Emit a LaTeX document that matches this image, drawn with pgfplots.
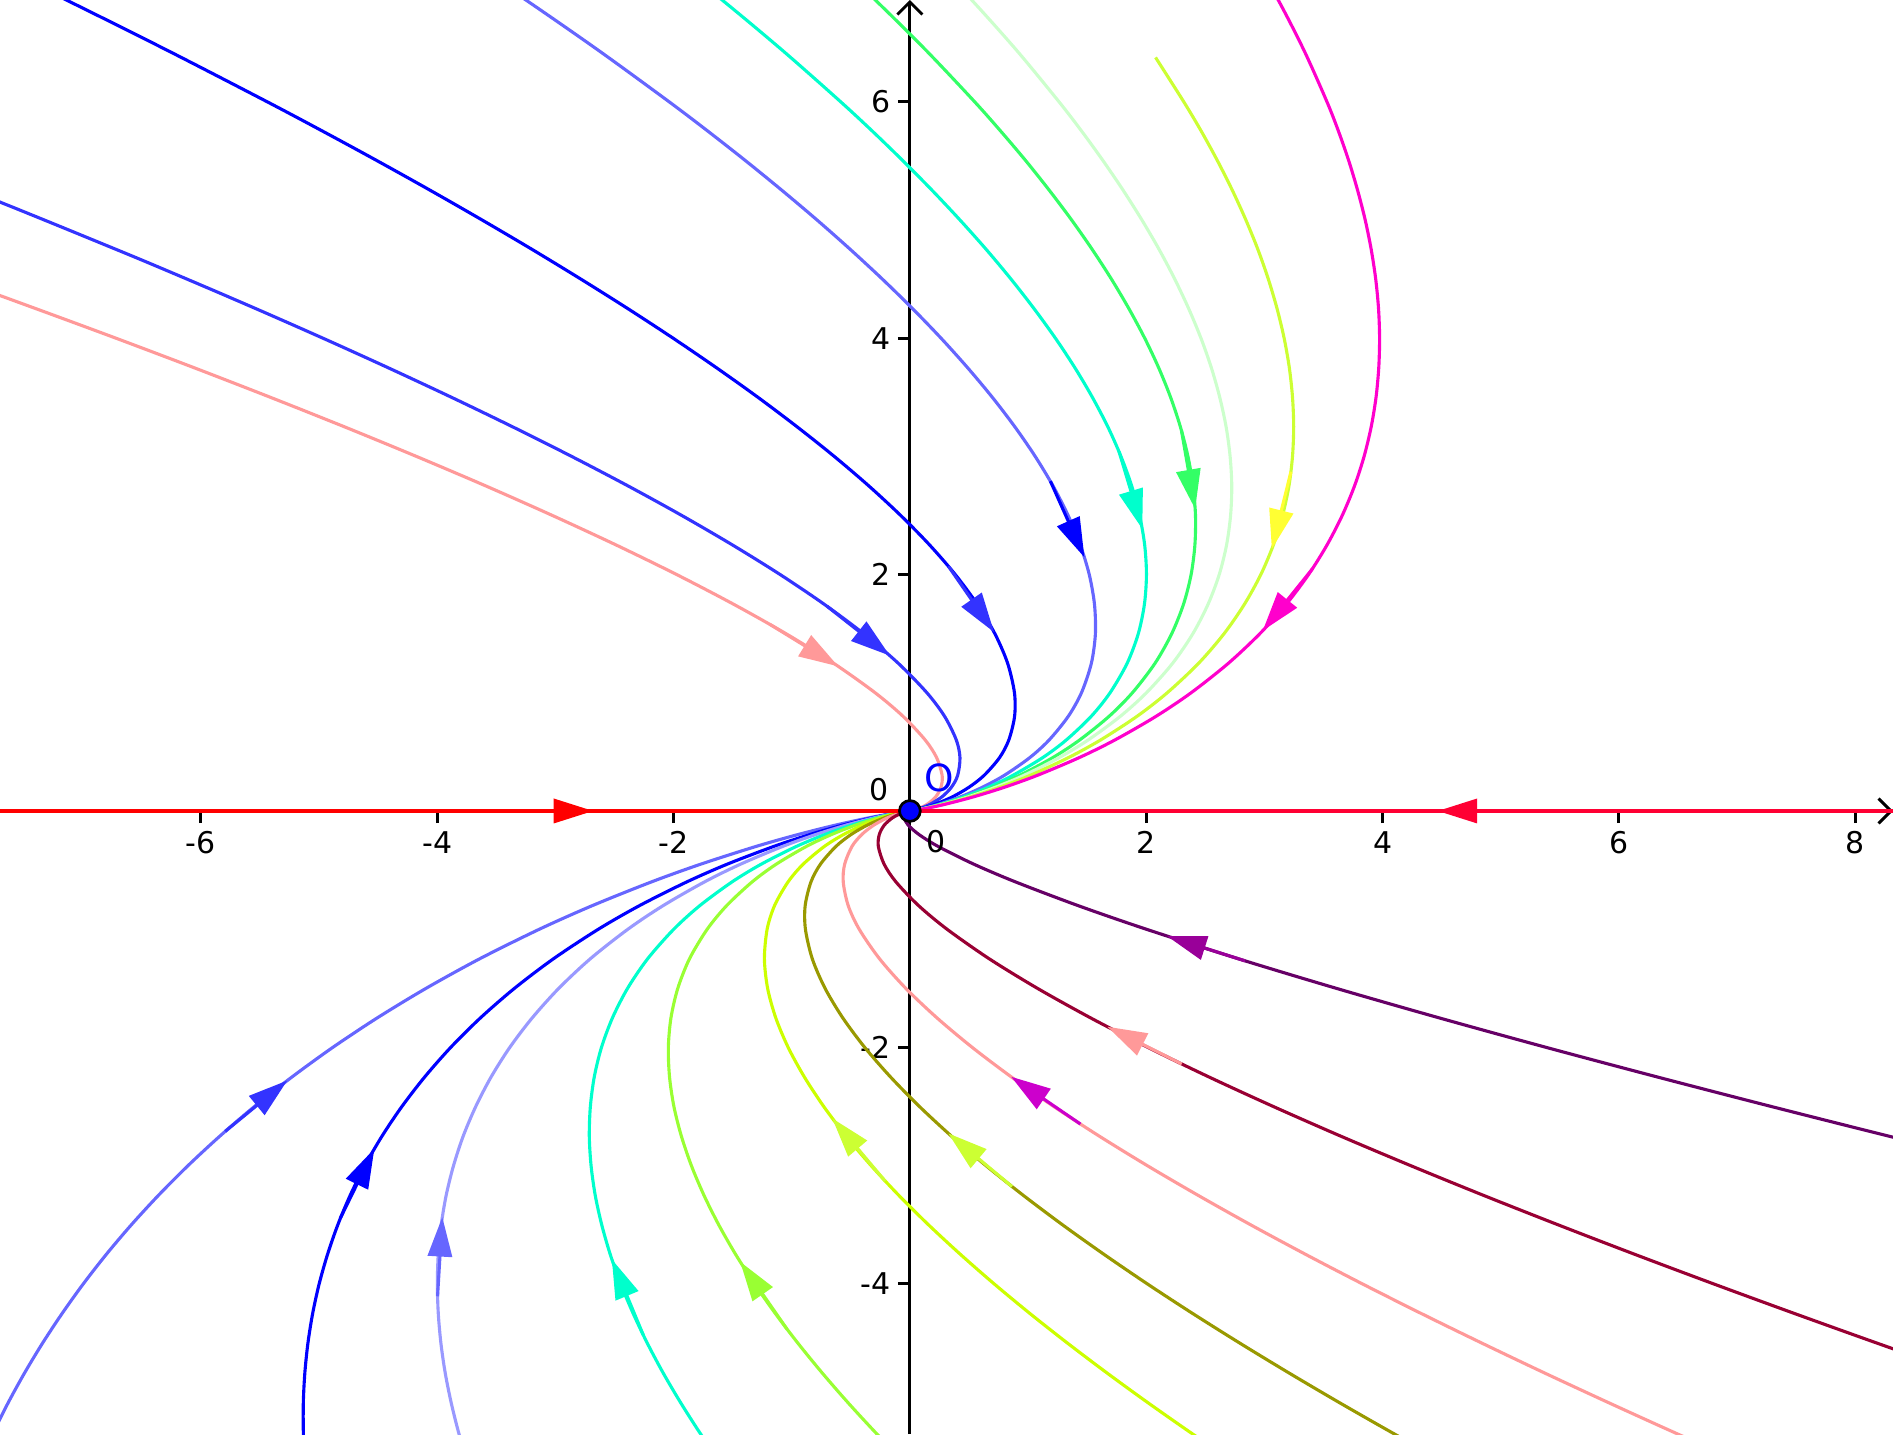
\documentclass[border=0pt]{standalone}
\usepackage{fontspec}
\setmainfont{DejaVu Sans}
\usepackage{pgfplots}
\pgfplotsset{compat=1.18}
\usetikzlibrary{arrows.meta}

\definecolor{cpink}{HTML}{FF9999}
\definecolor{cblueA}{HTML}{3333FF}
\definecolor{cblue}{HTML}{0000FF}
\definecolor{cperi}{HTML}{6666FF}
\definecolor{clav}{HTML}{9999FF}
\definecolor{cturq}{HTML}{00FFCC}
\definecolor{cgreen}{HTML}{33FF66}
\definecolor{cpale}{HTML}{CCFFCC}
\definecolor{clime}{HTML}{CCFF33}
\definecolor{cyell}{HTML}{FFFF33}
\definecolor{cmag}{HTML}{FF00CC}
\definecolor{cgrass}{HTML}{99FF33}
\definecolor{cchart}{HTML}{CCFF00}
\definecolor{colive}{HTML}{999900}
\definecolor{cviol}{HTML}{CC00CC}
\definecolor{cwine}{HTML}{990033}
\definecolor{cplum}{HTML}{660066}
\definecolor{cpurp}{HTML}{990099}
\definecolor{cred}{HTML}{FF0000}
\definecolor{ccrim}{HTML}{FF0033}

\tikzset{
  curve/.style={smooth, line width=0.75pt},
  arr/.style={line width=0.75pt, -{Triangle[length=9.5pt,width=5.8pt]}},
}

\begin{document}
\begin{tikzpicture}
\begin{axis}[
  width=16cm, height=12.1204cm, scale only axis,
  xmin=-7.70, xmax=8.32, ymin=-5.27, ymax=6.86,
  axis lines=middle,
  axis line style={black, line width=0.7pt, -{Straight Barb[length=3pt,width=6pt]}},
  xtick={-6,-4,-2,2,4,6,8}, xticklabels={-6,-4,-2,2,4,6,8},
  ytick={-4,-2,2,4,6}, yticklabels={-4,-2,2,4,6},
  tick align=outside, major tick length=2.9pt,
  tick style={black, line width=0.7pt},
  ticklabel style={font=\fontsize{7.2}{8}\selectfont},
  xticklabel style={yshift=1.5pt},
  yticklabel style={xshift=1.7pt},
  /pgf/number format/assume math mode=true,
]
% y > 0 : trajectories coming down to the origin
\addplot[cpink, curve] coordinates {(-9.517,5) (-8.091,4.5) (-7.399,4.25) (-6.721,4) (-6.059,3.75) (-5.414,3.5) (-4.786,3.25) (-4.178,3) (-3.590,2.75) (-3.026,2.5) (-2.486,2.25) (-1.974,2) (-1.494,1.75) (-1.049,1.5) (-0.646,1.25) (-0.294,1) (-0.057,0.8) (0.130,0.6) (0.227,0.45) (0.273,0.3) (0.263,0.2) (0.219,0.12) (0.151,0.06) (0.096,0.03) (0.043,0.01) (0.017,0.003) (0,0)};
\addplot[cblueA, curve] coordinates {(-9.887,6) (-7.950,5.25) (-6.717,4.75) (-6.120,4.5) (-5.537,4.25) (-4.969,4) (-4.417,3.75) (-3.881,3.5) (-3.363,3.25) (-2.864,3) (-2.386,2.75) (-1.931,2.5) (-1.501,2.25) (-1.098,2) (-0.727,1.75) (-0.392,1.5) (-0.099,1.25) (0.144,1) (0.294,0.8) (0.393,0.6) (0.424,0.45) (0.404,0.3) (0.351,0.2) (0.272,0.12) (0.177,0.06) (0.110,0.03) (0.047,0.01) (0.018,0.003) (0,0)};
\addplot[cblue, curve] coordinates {(-8.051,7.3) (-7.139,6.86) (-6.276,6.43) (-5.441,6) (-4.969,5.75) (-4.508,5.5) (-4.059,5.25) (-3.622,5) (-3.197,4.75) (-2.786,4.5) (-2.388,4.25) (-2.005,4) (-1.638,3.75) (-1.287,3.5) (-0.955,3.25) (-0.641,3) (-0.348,2.75) (-0.078,2.5) (0.167,2.25) (0.384,2) (0.569,1.75) (0.719,1.5) (0.827,1.25) (0.885,1) (0.886,0.8) (0.837,0.6) (0.758,0.45) (0.627,0.3) (0.499,0.2) (0.361,0.12) (0.222,0.06) (0.132,0.03) (0.055,0.01) (0.020,0.003) (0,0)};
\addplot[cperi, curve] coordinates {(-3.912,7.3) (-3.250,6.86) (-2.630,6.43) (-2.039,6) (-1.709,5.75) (-1.390,5.5) (-1.083,5.25) (-0.787,5) (-0.504,4.75) (-0.234,4.5) (0.022,4.25) (0.263,4) (0.488,3.75) (0.697,3.5) (0.888,3.25) (1.060,3) (1.211,2.75) (1.339,2.5) (1.442,2.25) (1.518,2) (1.562,1.75) (1.570,1.5) (1.536,1.25) (1.452,1) (1.340,0.8) (1.178,0.6) (1.013,0.45) (0.797,0.3) (0.612,0.2) (0.429,0.12) (0.256,0.06) (0.149,0.03) (0.061,0.01) (0.022,0.003) (0,0)};
\addplot[cturq, curve] coordinates {(-2.145,7.3) (-1.589,6.86) (-1.074,6.43) (-0.587,6) (-0.317,5.75) (-0.059,5.5) (0.188,5.25) (0.423,5) (0.646,4.75) (0.855,4.5) (1.050,4.25) (1.231,4) (1.396,3.75) (1.544,3.5) (1.675,3.25) (1.786,3) (1.877,2.75) (1.944,2.5) (1.987,2.25) (2.002,2) (1.985,1.75) (1.933,1.5) (1.839,1.25) (1.694,1) (1.534,0.8) (1.323,0.6) (1.122,0.45) (0.869,0.3) (0.661,0.2) (0.458,0.12) (0.270,0.06) (0.156,0.03) (0.063,0.01) (0.023,0.003) (0,0)};
\addplot[cgreen, curve] coordinates {(-0.766,7.3) (-0.293,6.86) (0.141,6.43) (0.547,6) (0.769,5.75) (0.981,5.5) (1.180,5.25) (1.368,5) (1.543,4.75) (1.705,4.5) (1.853,4.25) (1.987,4) (2.105,3.75) (2.206,3.5) (2.289,3.25) (2.353,3) (2.396,2.75) (2.417,2.5) (2.412,2.25) (2.380,2) (2.316,1.75) (2.216,1.5) (2.075,1.25) (1.883,1) (1.685,0.8) (1.436,0.6) (1.207,0.45) (0.926,0.3) (0.698,0.2) (0.480,0.12) (0.282,0.06) (0.162,0.03) (0.065,0.01) (0.023,0.003) (0,0)};
\addplot[cpale, curve] coordinates {(0.103,7.3) (0.523,6.86) (0.907,6.43) (1.261,6) (1.454,5.75) (1.635,5.5) (1.805,5.25) (1.963,5) (2.109,4.75) (2.241,4.5) (2.359,4.25) (2.463,4) (2.551,3.75) (2.622,3.5) (2.676,3.25) (2.710,3) (2.724,2.75) (2.714,2.5) (2.680,2.25) (2.618,2) (2.524,1.75) (2.395,1.5) (2.224,1.25) (2.002,1) (1.780,0.8) (1.508,0.6) (1.260,0.45) (0.962,0.3) (0.722,0.2) (0.495,0.12) (0.289,0.06) (0.165,0.03) (0.066,0.01) (0.023,0.003) (0,0)};
\addplot[clime, curve] coordinates {(2.079,6.374) (2.317,6) (2.466,5.75) (2.603,5.5) (2.729,5.25) (2.843,5) (2.945,4.75) (3.033,4.5) (3.107,4.25) (3.167,4) (3.211,3.75) (3.238,3.5) (3.248,3.25) (3.238,3) (3.208,2.75) (3.154,2.5) (3.076,2.25) (2.970,2) (2.832,1.75) (2.659,1.5) (2.444,1.25) (2.178,1) (1.921,0.8) (1.613,0.6) (1.339,0.45) (1.015,0.3) (0.757,0.2) (0.516,0.12) (0.299,0.06) (0.171,0.03) (0.068,0.01) (0.024,0.003) (0,0)};
\addplot[cmag, curve] coordinates {(2.862,7.3) (3.117,6.86) (3.337,6.43) (3.529,6) (3.627,5.75) (3.714,5.5) (3.789,5.25) (3.853,5) (3.904,4.75) (3.942,4.5) (3.966,4.25) (3.975,4) (3.968,3.75) (3.945,3.5) (3.904,3.25) (3.844,3) (3.763,2.75) (3.659,2.5) (3.530,2.25) (3.374,2) (3.186,1.75) (2.962,1.5) (2.696,1.25) (2.380,1) (2.082,0.8) (1.734,0.6) (1.430,0.45) (1.075,0.3) (0.798,0.2) (0.540,0.12) (0.312,0.06) (0.177,0.03) (0.070,0.01) (0.025,0.003) (0,0)};
% y < 0 : trajectories coming up to the origin
\addplot[cperi, curve] coordinates {(-7.867,-5.5) (-7.753,-5.25) (-7.628,-5) (-7.490,-4.75) (-7.339,-4.5) (-7.174,-4.25) (-6.995,-4) (-6.800,-3.75) (-6.588,-3.5) (-6.358,-3.25) (-6.109,-3) (-5.839,-2.75) (-5.547,-2.5) (-5.229,-2.25) (-4.884,-2) (-4.507,-1.75) (-4.094,-1.5) (-3.640,-1.25) (-3.135,-1) (-2.686,-0.8) (-2.187,-0.6) (-1.770,-0.45) (-1.302,-0.3) (-0.949,-0.2) (-0.631,-0.12) (-0.357,-0.06) (-0.199,-0.03) (-0.077,-0.01) (-0.027,-0.003) (0,0)};
\addplot[cblue, curve] coordinates {(-5.122,-5.5) (-5.133,-5.25) (-5.133,-5) (-5.120,-4.75) (-5.094,-4.5) (-5.054,-4.25) (-4.999,-4) (-4.928,-3.75) (-4.841,-3.5) (-4.736,-3.25) (-4.612,-3) (-4.467,-2.75) (-4.299,-2.5) (-4.106,-2.25) (-3.886,-2) (-3.634,-1.75) (-3.346,-1.5) (-3.016,-1.25) (-2.636,-1) (-2.287,-0.8) (-1.888,-0.6) (-1.546,-0.45) (-1.152,-0.3) (-0.849,-0.2) (-0.571,-0.12) (-0.327,-0.06) (-0.184,-0.03) (-0.072,-0.01) (-0.025,-0.003) (0,0)};
\addplot[clav, curve] coordinates {(-3.747,-5.5) (-3.821,-5.25) (-3.883,-5) (-3.933,-4.75) (-3.969,-4.5) (-3.991,-4.25) (-3.999,-4) (-3.991,-3.75) (-3.966,-3.5) (-3.924,-3.25) (-3.862,-3) (-3.780,-2.75) (-3.674,-2.5) (-3.544,-2.25) (-3.386,-2) (-3.196,-1.75) (-2.971,-1.5) (-2.704,-1.25) (-2.386,-1) (-2.087,-0.8) (-1.738,-0.6) (-1.433,-0.45) (-1.077,-0.3) (-0.799,-0.2) (-0.541,-0.12) (-0.312,-0.06) (-0.177,-0.03) (-0.070,-0.01) (-0.025,-0.003) (0,0)};
\addplot[cturq, curve] coordinates {(-1.613,-5.5) (-1.784,-5.25) (-1.943,-5) (-2.090,-4.75) (-2.223,-4.5) (-2.342,-4.25) (-2.447,-4) (-2.536,-3.75) (-2.608,-3.5) (-2.663,-3.25) (-2.698,-3) (-2.713,-2.75) (-2.704,-2.5) (-2.671,-2.25) (-2.610,-2) (-2.517,-1.75) (-2.389,-1.5) (-2.219,-1.25) (-1.998,-1) (-1.777,-0.8) (-1.505,-0.6) (-1.258,-0.45) (-0.961,-0.3) (-0.721,-0.2) (-0.494,-0.12) (-0.289,-0.06) (-0.165,-0.03) (-0.066,-0.01) (-0.023,-0.003) (0,0)};
\addplot[cgrass, curve] coordinates {(-0.057,-5.5) (-0.298,-5.25) (-0.528,-5) (-0.745,-4.75) (-0.949,-4.5) (-1.139,-4.25) (-1.315,-4) (-1.475,-3.75) (-1.618,-3.5) (-1.743,-3.25) (-1.849,-3) (-1.934,-2.75) (-1.997,-2.5) (-2.034,-2.25) (-2.044,-2) (-2.022,-1.75) (-1.964,-1.5) (-1.865,-1.25) (-1.715,-1) (-1.550,-0.8) (-1.335,-0.6) (-1.131,-0.45) (-0.876,-0.3) (-0.665,-0.2) (-0.460,-0.12) (-0.272,-0.06) (-0.157,-0.03) (-0.063,-0.01) (-0.023,-0.003) (0,0)};
\addplot[cchart, curve] coordinates {(2.732,-5.5) (2.364,-5.25) (2.007,-5) (1.663,-4.75) (1.332,-4.5) (1.015,-4.25) (0.713,-4) (0.427,-3.75) (0.157,-3.5) (-0.095,-3.25) (-0.328,-3) (-0.540,-2.75) (-0.729,-2.5) (-0.893,-2.25) (-1.030,-2) (-1.135,-1.75) (-1.204,-1.5) (-1.231,-1.25) (-1.208,-1) (-1.145,-0.8) (-1.031,-0.6) (-0.903,-0.45) (-0.724,-0.3) (-0.563,-0.2) (-0.399,-0.12) (-0.241,-0.06) (-0.141,-0.03) (-0.058,-0.01) (-0.021,-0.003) (0,0)};
\addplot[colive, curve] coordinates {(4.514,-5.5) (4.065,-5.25) (3.627,-5) (3.202,-4.75) (2.790,-4.5) (2.392,-4.25) (2.009,-4) (1.642,-3.75) (1.291,-3.5) (0.958,-3.25) (0.644,-3) (0.351,-2.75) (0.081,-2.5) (-0.164,-2.25) (-0.382,-2) (-0.568,-1.75) (-0.718,-1.5) (-0.826,-1.25) (-0.884,-1) (-0.886,-0.8) (-0.837,-0.6) (-0.757,-0.45) (-0.626,-0.3) (-0.499,-0.2) (-0.361,-0.12) (-0.222,-0.06) (-0.132,-0.03) (-0.055,-0.01) (-0.020,-0.003) (0,0)};
\addplot[cpink, curve] coordinates {(7.016,-5.5) (6.453,-5.25) (5.902,-5) (5.363,-4.75) (4.838,-4.5) (4.326,-4.25) (3.829,-4) (3.348,-3.75) (2.883,-3.5) (2.437,-3.25) (2.009,-3) (1.602,-2.75) (1.218,-2.5) (0.859,-2.25) (0.528,-2) (0.229,-1.75) (-0.035,-1.5) (-0.257,-1.25) (-0.429,-1) (-0.522,-0.8) (-0.564,-0.6) (-0.552,-0.45) (-0.490,-0.3) (-0.408,-0.2) (-0.306,-0.12) (-0.195,-0.06) (-0.118,-0.03) (-0.050,-0.01) (-0.019,-0.003) (0,0)};
\addplot[cwine, curve] coordinates {(9.617,-5) (8.892,-4.75) (8.181,-4.5) (7.484,-4.25) (6.801,-4) (6.134,-3.75) (5.484,-3.5) (4.851,-3.25) (4.238,-3) (3.645,-2.75) (3.076,-2.5) (2.531,-2.25) (2.014,-2) (1.529,-1.75) (1.079,-1.5) (0.671,-1.25) (0.314,-1) (0.073,-0.8) (-0.118,-0.6) (-0.218,-0.45) (-0.267,-0.3) (-0.259,-0.2) (-0.217,-0.12) (-0.150,-0.06) (-0.096,-0.03) (-0.043,-0.01) (-0.016,-0.003) (0,0)};
\addplot[cplum, curve] coordinates {(11.385,-3.5) (10.331,-3.25) (9.296,-3) (8.282,-2.75) (7.291,-2.5) (6.325,-2.25) (5.386,-2) (4.479,-1.75) (3.608,-1.5) (2.779,-1.25) (2.0,-1) (1.422,-0.8) (0.894,-0.6) (0.541,-0.45) (0.239,-0.3) (0.078,-0.2) (-0.014,-0.12) (-0.049,-0.06) (-0.045,-0.03) (-0.026,-0.01) (-0.011,-0.003) (0,0)};
% invariant line y = 0
\addplot[cred, line width=0.85pt] coordinates {(-7.70,0) (0,0)};
\addplot[ccrim, line width=0.85pt] coordinates {(0,0) (8.32,0)};
% direction arrows
\addplot[cpink, arr] coordinates {(-1.187,1.58) (-0.606,1.223)};
\addplot[cblueA, arr] coordinates {(-0.699,1.73) (-0.170,1.314)};
\addplot[cblueA, arr] coordinates {(0.326,2.07) (0.712,1.513)};
\addplot[cblue, arr] coordinates {(1.189,2.79) (1.477,2.146)};
\addplot[cturq, arr] coordinates {(1.770,3.04) (1.967,2.386)};
\addplot[cgreen, arr] coordinates {(2.298,3.22) (2.414,2.555)};
\addplot[cyell, arr] coordinates {(3.225,2.87) (3.063,2.217)};
\addplot[cmag, arr] coordinates {(3.408,2.05) (2.986,1.525)};
\addplot[cblueA, arr] coordinates {(-5.794,-2.71) (-5.269,-2.28)};
\addplot[cblue, arr] coordinates {(-4.821,-3.447) (-4.532,-2.857)};
\addplot[cperi, arr] coordinates {(-3.997,-4.105) (-3.957,-3.435)};
\addplot[cturq, arr] coordinates {(-2.256,-4.433) (-2.522,-3.793)};
\addplot[cgrass, arr] coordinates {(-1.040,-4.383) (-1.436,-3.813)};
\addplot[clime, arr] coordinates {(-0.210,-3.13) (-0.657,-2.6)};
\addplot[clime, arr] coordinates {(0.864,-3.177) (0.325,-2.727)};
\addplot[cviol, arr] coordinates {(1.443,-2.648) (0.857,-2.248)};
\addplot[cpink, arr] coordinates {(2.300,-2.14) (1.671,-1.825)};
\addplot[cpurp, arr] coordinates {(2.837,-1.268) (2.176,-1.058)};
\addplot[cred, arr] coordinates {(-3.38,0) (-2.68,0)};
\addplot[ccrim, arr] coordinates {(5.17,0) (4.467,0)};
% equilibrium
\addplot[only marks, mark=*, mark size=2.5pt, mark options={fill=blue, draw=black, line width=0.65pt}] coordinates {(0,0)};
\node[text=blue, font=\fontsize{9}{10}\selectfont] at (axis cs:0.25,0.28) {O};
\node[font=\fontsize{7.2}{8}\selectfont] at (axis cs:-0.265,0.178) {0};
\node[font=\fontsize{7.2}{8}\selectfont] at (axis cs:0.225,-0.26) {0};
\end{axis}
\pgfresetboundingbox
\path[use as bounding box] (current axis.south west) rectangle (current axis.north east);
\end{tikzpicture}
\end{document}
